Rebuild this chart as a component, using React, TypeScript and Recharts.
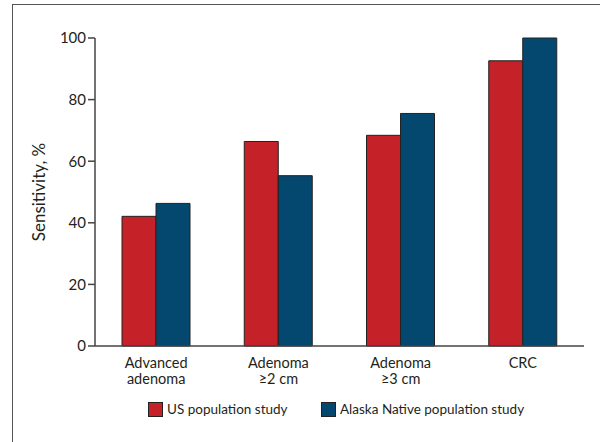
import * as React from "react";
import { BarChart, Bar, XAxis, YAxis } from "recharts";

const categories = ["Advanced\nadenoma", "Adenoma\n≥2 cm", "Adenoma\n≥3 cm", "CRC"];
const usStudy = [42.1, 66.4, 68.4, 92.6];
const alaskaStudy = [46.3, 55.3, 75.5, 100];
const yTicks = [0, 20, 40, 60, 80, 100];

const SERIES = [
  { key: "us", label: "US population study", color: "#c42129" },
  { key: "alaska", label: "Alaska Native population study", color: "#05486f" },
];

const FONT = "Lato, 'Noto Sans', sans-serif";
const TEXT = "#231f20";
const AXIS = "#444";

const data = categories.map((c, i) => ({
  cat: c,
  us: usStudy[i],
  alaska: alaskaStudy[i],
}));

function CatTick(props: any) {
  const { x, y, payload } = props;
  const lines = String(payload.value).split("\n");
  return (
    <g>
      {lines.map((l, i) => (
        <text
          key={i}
          x={x}
          y={y + 14 + i * 16}
          textAnchor="middle"
          fill={TEXT}
          fontSize={14.5}
          fontFamily={FONT}
        >
          {l}
        </text>
      ))}
    </g>
  );
}

function YLabel(props: any) {
  const { viewBox } = props;
  const cy = viewBox.y + viewBox.height / 2;
  const cx = 38;
  return (
    <text
      x={cx}
      y={cy}
      transform={`rotate(-90, ${cx}, ${cy})`}
      textAnchor="middle"
      dominantBaseline="central"
      fill={TEXT}
      fontSize={17}
      fontFamily={FONT}
    >
      Sensitivity, %
    </text>
  );
}

const legendLeft = [148, 321];

export default function App() {
  return (
    <div
      style={{
        position: "absolute",
        left: 0,
        top: 0,
        width: 600,
        height: 442,
        background: "#fff",
        overflow: "hidden",
      }}
    >
      {/* frame, open on right and bottom */}
      <div
        style={{
          position: "absolute",
          left: 12,
          top: 4,
          width: 600,
          height: 460,
          borderLeft: "1.5px solid #555",
          borderTop: "1.5px solid #555",
        }}
      />
      <div style={{ position: "absolute", left: 0, top: 0 }}>
        <BarChart
          width={600}
          height={442}
          data={data}
          margin={{ top: 38, right: 16, left: 0, bottom: 65 }}
          barGap={0}
          barSize={34}
        >
          <XAxis
            dataKey="cat"
            interval={0}
            height={31}
            tickLine={false}
            axisLine={{ stroke: AXIS, strokeWidth: 1.5 }}
            tick={<CatTick />}
          />
          <YAxis
            width={95}
            domain={[0, 100]}
            ticks={yTicks}
            tickSize={7}
            tickLine={{ stroke: AXIS, strokeWidth: 1.5 }}
            axisLine={{ stroke: AXIS, strokeWidth: 1.5 }}
            tick={{ fill: TEXT, fontSize: 15, fontFamily: FONT }}
            label={<YLabel />}
          />
          {SERIES.map((s) => (
            <Bar
              key={s.key}
              dataKey={s.key}
              fill={s.color}
              stroke="#222"
              strokeWidth={1}
              isAnimationActive={false}
            />
          ))}
        </BarChart>
      </div>
      {/* legend */}
      {SERIES.map((s, i) => (
        <div
          key={s.key}
          style={{
            position: "absolute",
            left: legendLeft[i],
            top: 401,
            display: "flex",
            alignItems: "center",
            fontFamily: FONT,
            fontSize: 13.5,
            color: TEXT,
          }}
        >
          <span
            style={{
              display: "inline-block",
              width: 13,
              height: 13,
              background: s.color,
              border: "1px solid #222",
              marginRight: 4,
            }}
          />
          <span>{s.label}</span>
        </div>
      ))}
    </div>
  );
}
